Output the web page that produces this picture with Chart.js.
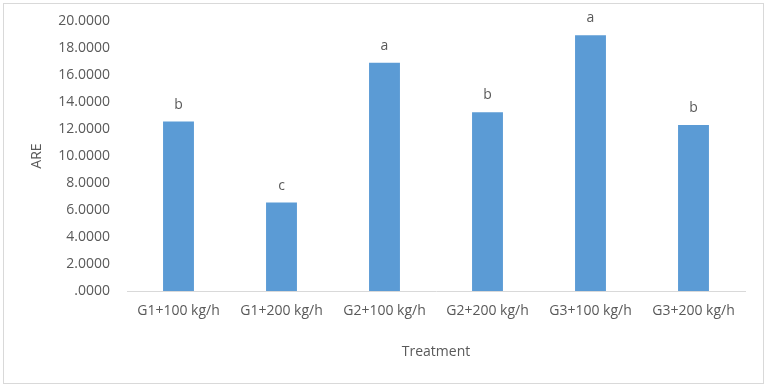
<!DOCTYPE html>
<html>
<head>
<meta charset="utf-8">
<script src="https://cdn.jsdelivr.net/npm/chart.js@4/dist/chart.umd.min.js"></script>
<style>
  body { margin: 0; background: #fff; }
  #wrap { position: relative; width: 768px; height: 387px; }
  #frame { position: absolute; left: 3px; top: 3px; width: 759px; height: 379px; border: 1px solid #d9d9d9; }
  canvas { position: absolute; left: 0; top: 0; }
</style>
</head>
<body>
<div id="wrap">
  <div id="frame"></div>
  <canvas id="chart" width="768" height="387"></canvas>
</div>
<script>
const treatments = ['G1+100 kg/h', 'G1+200 kg/h', 'G2+100 kg/h', 'G2+200 kg/h', 'G3+100 kg/h', 'G3+200 kg/h'];
const areValues = [12.55, 6.55, 16.9, 13.25, 18.95, 12.3];
const groupLetters = ['b', 'c', 'a', 'b', 'a', 'b'];

const textColor = '#595959';
const fontFamily = '"Open Sans", "Liberation Sans", sans-serif';

// draws the significance letters above each bar
const letterPlugin = {
    id: 'letters',
    afterDatasetsDraw(chart) {
        const ctx = chart.ctx;
        const meta = chart.getDatasetMeta(0);
        ctx.save();
        ctx.font = '14px ' + fontFamily;
        ctx.fillStyle = textColor;
        ctx.textAlign = 'center';
        ctx.textBaseline = 'bottom';
        meta.data.forEach((bar, i) => {
            ctx.fillText(groupLetters[i], bar.x, bar.y - 10);
        });
        ctx.restore();
    }
};

new Chart(document.getElementById('chart'), {
    type: 'bar',
    data: {
        labels: treatments,
        datasets: [{
            data: areValues,
            backgroundColor: '#5b9bd5',
            categoryPercentage: 1,
            barPercentage: 0.3
        }]
    },
    options: {
        responsive: false,
        animation: false,
        layout: { padding: { left: 20, right: 23, top: 21, bottom: 4 } },
        plugins: { legend: { display: false }, tooltip: { enabled: false } },
        scales: {
            x: {
                grid: { display: false, drawTicks: false },
                border: { color: '#d9d9d9', width: 1 },
                ticks: { color: textColor, font: { family: fontFamily, size: 14 }, padding: 12, maxRotation: 0 },
                title: { display: true, text: 'Treatment', color: textColor, font: { family: fontFamily, size: 14 }, padding: { top: 0, bottom: 23 } },
                afterFit(scale) { scale.height = 387 - 291 - 4; }
            },
            y: {
                min: 0,
                max: 20,
                grid: { display: false, drawTicks: false },
                border: { display: false },
                ticks: {
                    stepSize: 2,
                    color: textColor,
                    font: { family: fontFamily, size: 14 },
                    padding: 17,
                    callback: v => v === 0 ? '.0000' : v.toFixed(4)
                },
                title: { display: true, text: 'ARE', color: textColor, font: { family: fontFamily, size: 14 }, padding: { top: 9, bottom: 0 } },
                afterFit(scale) {
                    scale.width = 127 - 20;
                    scale.paddingTop = 0;
                    scale.paddingBottom = 0;
                }
            }
        }
    },
    plugins: [letterPlugin]
});
</script>
</body>
</html>
